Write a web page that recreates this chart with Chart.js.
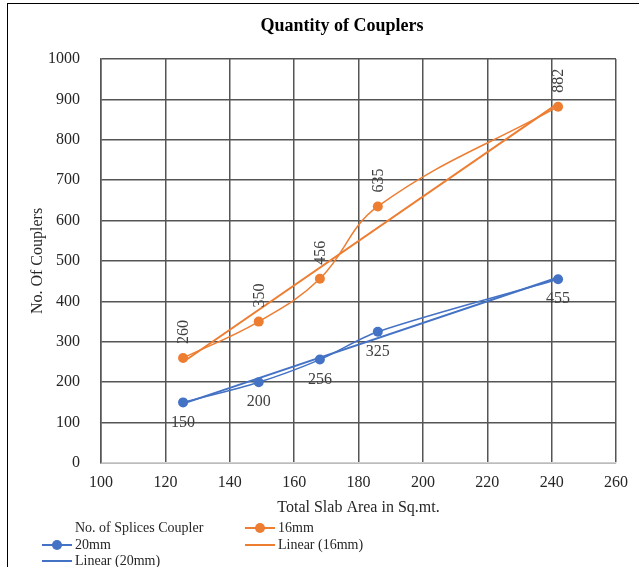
<!DOCTYPE html>
<html>
<head>
<meta charset="utf-8">
<script src="https://cdn.jsdelivr.net/npm/chart.js@4/dist/chart.umd.min.js"></script>
<style>
  body { margin: 0; background: #fff; }
  #wrap { position: relative; width: 639px; height: 567px; overflow: hidden; }
  #frame {
    position: absolute; left: 7px; top: 3px; width: 700px; height: 700px;
    border-left: 1.5px solid #000; border-top: 1.5px solid #000;
  }
  canvas { position: absolute; left: 0; top: 0; }
  .lg {
    position: absolute; font: 14px "Liberation Serif", serif; color: #262626;
    display: flex; align-items: center; white-space: nowrap; height: 16px;
  }
  .sym { position: relative; width: 30px; height: 16px; margin-right: 3px; }
  .sym .ln { position: absolute; left: 0; right: 0; top: 7px; height: 2px; }
  .sym .dot { position: absolute; left: 10px; top: 3px; width: 10px; height: 10px; border-radius: 50%; }
</style>
</head>
<body>
<div id="wrap">
  <div id="frame"></div>
  <canvas id="chart" width="639" height="567"></canvas>
  <div class="lg" style="left:75px; top:520px;">No. of Splices Coupler</div>
  <div class="lg" style="left:245px; top:520px;"><span class="sym"><span class="ln" style="background:#ED7D31"></span><span class="dot" style="background:#ED7D31"></span></span>16mm</div>
  <div class="lg" style="left:42px; top:537px;"><span class="sym"><span class="ln" style="background:#4472C4"></span><span class="dot" style="background:#4472C4"></span></span>20mm</div>
  <div class="lg" style="left:245px; top:537px;"><span class="sym"><span class="ln" style="background:#ED7D31"></span></span>Linear (16mm)</div>
  <div class="lg" style="left:42px; top:553px;"><span class="sym"><span class="ln" style="background:#4472C4"></span></span>Linear (20mm)</div>
</div>
<script>
const slabArea = [125.5, 149, 168, 186, 242];
const couplers16 = [260, 350, 456, 635, 882];
const couplers20 = [150, 200, 256, 325, 455];
// trendline end points
const trendX = [125.5, 242];
const trend16 = [250, 890];
const trend20 = [147, 459];

const ORANGE = '#ED7D31';
const BLUE = '#4472C4';
const TEXT = '#262626';
const SERIF = '"Liberation Serif", serif';

const toPoints = (xs, ys) => xs.map((x, i) => ({ x, y: ys[i] }));

const titlePlugin = {
  id: 'titlePlugin',
  afterDraw(chart) {
    const { ctx } = chart;
    ctx.save();
    ctx.font = `bold 18px ${SERIF}`;
    ctx.fillStyle = '#000';
    ctx.textAlign = 'center';
    ctx.textBaseline = 'middle';
    ctx.fillText('Quantity of Couplers', 342, 26);
    ctx.restore();
  },
};

const pointLabels = {
  id: 'pointLabels',
  afterDatasetsDraw(chart) {
    const { ctx } = chart;
    ctx.save();
    ctx.font = `16px ${SERIF}`;
    ctx.fillStyle = '#404040';
    ctx.textAlign = 'center';
    ctx.textBaseline = 'middle';
    // 16mm labels sit above the point, turned on their side
    chart.getDatasetMeta(0).data.forEach((pt, i) => {
      ctx.save();
      ctx.translate(pt.x + 1, pt.y - 26);
      ctx.rotate(-Math.PI / 2);
      ctx.fillText(String(couplers16[i]), 0, 0);
      ctx.restore();
    });
    // 20mm labels sit below the point
    chart.getDatasetMeta(1).data.forEach((pt, i) => {
      ctx.fillText(String(couplers20[i]), pt.x, pt.y + 20);
    });
    ctx.restore();
  },
};

new Chart(document.getElementById('chart'), {
  type: 'line',
  data: {
    datasets: [{
      label: '16mm',
      data: toPoints(slabArea, couplers16),
      borderColor: ORANGE,
      backgroundColor: ORANGE,
      borderWidth: 1.5,
      pointRadius: 5,
      pointBorderWidth: 0,
      tension: 0.4,
    },
    {
      label: '20mm',
      data: toPoints(slabArea, couplers20),
      borderColor: BLUE,
      backgroundColor: BLUE,
      borderWidth: 1.5,
      pointRadius: 5,
      pointBorderWidth: 0,
      tension: 0.3,
    },
    {
      label: 'Linear (16mm)',
      data: toPoints(trendX, trend16),
      borderColor: ORANGE,
      borderWidth: 2,
      pointRadius: 0,
    },
    {
      label: 'Linear (20mm)',
      data: toPoints(trendX, trend20),
      borderColor: BLUE,
      borderWidth: 2,
      pointRadius: 0,
    }],
  },
  options: {
    responsive: false,
    animation: false,
    layout: {
      padding: { left: 0, top: 59, right: 23, bottom: 44 },
    },
    plugins: {
      legend: { display: false },
      tooltip: { enabled: false },
    },
    scales: {
      x: {
        type: 'linear',
        min: 100,
        max: 260,
        afterFit: (scale) => { scale.height = 60; },
        ticks: {
          stepSize: 20,
          padding: 10,
          color: TEXT,
          font: { family: SERIF, size: 16 },
        },
        grid: { color: '#555', lineWidth: 1.5, drawTicks: false },
        border: { color: '#d0d0d0', width: 1.5 },
        title: {
          display: true,
          text: 'Total Slab Area in Sq.mt.',
          color: TEXT,
          font: { family: SERIF, size: 16 },
          padding: { top: 0, bottom: 6 },
        },
      },
      y: {
        min: 0,
        max: 1000,
        afterFit: (scale) => { scale.width = 101; },
        ticks: {
          stepSize: 100,
          padding: 21,
          color: TEXT,
          font: { family: SERIF, size: 16 },
          callback: (value) => String(value),
        },
        grid: { color: '#555', lineWidth: 1.5, drawTicks: false },
        border: { color: '#555', width: 1.5 },
        title: {
          display: true,
          text: 'No. Of Couplers',
          color: TEXT,
          font: { family: SERIF, size: 16 },
          padding: { top: 28, bottom: 0 },
        },
      },
    },
  },
  plugins: [titlePlugin, pointLabels],
});
</script>
</body>
</html>
